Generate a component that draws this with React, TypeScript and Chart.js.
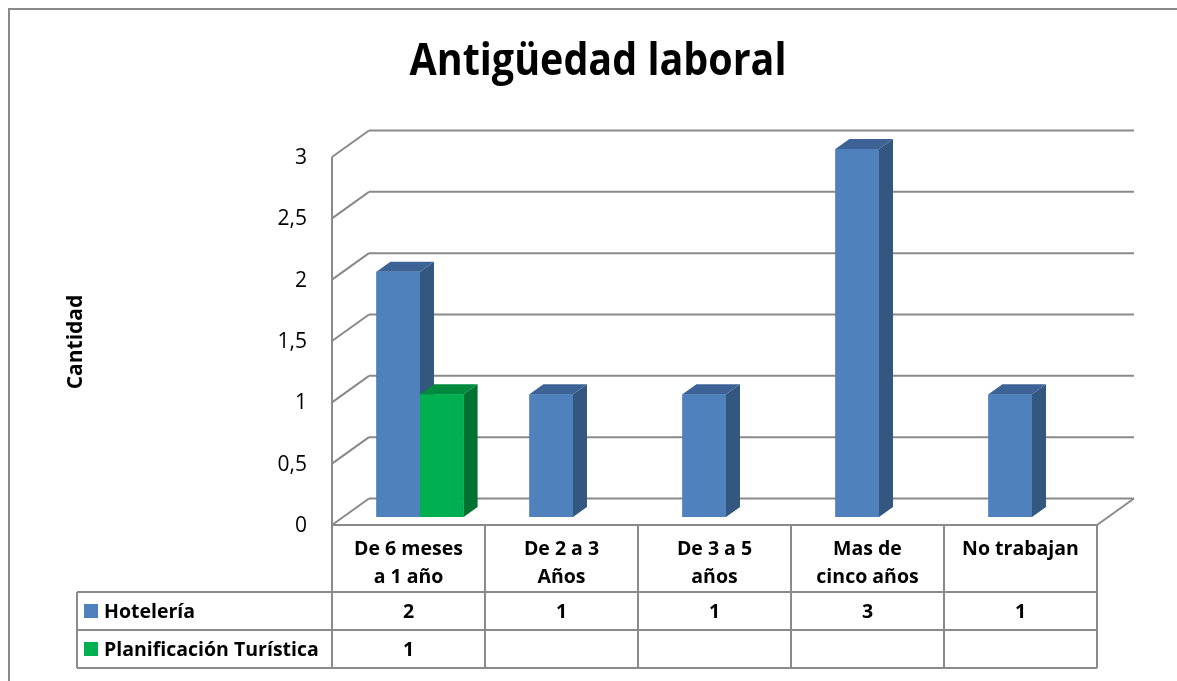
import React, { useEffect, useRef } from "react";
import { Chart, registerables } from "chart.js";

Chart.register(...registerables);

// ---------- data ----------
const TITLE = "Antigüedad laboral";
const Y_TITLE = "Cantidad";
const categories: string[][] = [
  ["De 6 meses", "a 1 año"],
  ["De 2 a 3", "Años"],
  ["De 3 a 5", "años"],
  ["Mas de", "cinco años"],
  ["No trabajan"],
];
const seriesNames = ["Hotelería", "Planificación Turística"];
const hoteleria: (number | null)[] = [2, 1, 1, 3, 1];
const planificacion: (number | null)[] = [1, null, null, null, null];
const yTicks = [0, 0.5, 1, 1.5, 2, 2.5, 3];
const yTickLabels = ["0", "0,5", "1", "1,5", "2", "2,5", "3"];

// ---------- style ----------
const FONT = "'Open Sans', 'Noto Sans', sans-serif";
const LINE = "#8a8a8a";
const COLORS = [
  { front: "#4F81BD", top: "#3D6396", side: "#34577F" },
  { front: "#00B050", top: "#008A3E", side: "#007232" },
];
// depth offsets relative to the bar front plane
const FRONT = { dx: -11.5, dy: 8 };
const BACK = { dx: 25.5, dy: -18.5 };
const BAR_DEPTH = { dx: 14, dy: -10 };
const TABLE = { left: 77, headerH: 67, rowH: 38 };
const TITLE_BOX = { cx: 598, baseline: 75, width: 377, size: 45 };

function line(ctx: CanvasRenderingContext2D, x1: number, y1: number, x2: number, y2: number) {
  ctx.beginPath();
  ctx.moveTo(x1, y1);
  ctx.lineTo(x2, y2);
  ctx.stroke();
}

function poly(ctx: CanvasRenderingContext2D, pts: number[][], color: string) {
  ctx.beginPath();
  ctx.moveTo(pts[0][0], pts[0][1]);
  for (let i = 1; i < pts.length; i++) ctx.lineTo(pts[i][0], pts[i][1]);
  ctx.closePath();
  ctx.fillStyle = color;
  ctx.fill();
}

const excel3d = {
  id: "excel3d",
  beforeDraw(chart: any) {
    const ctx: CanvasRenderingContext2D = chart.ctx;
    const W = chart.width, H = chart.height;
    ctx.save();
    ctx.fillStyle = "#ffffff";
    ctx.fillRect(0, 0, W, H);
    // outer chart border
    ctx.strokeStyle = LINE;
    ctx.lineWidth = 2;
    ctx.beginPath();
    ctx.moveTo(9, H + 5);
    ctx.lineTo(9, 9);
    ctx.lineTo(W + 5, 9);
    ctx.stroke();

    const xs = chart.scales.x, ys = chart.scales.y;
    const L = xs.left, R = xs.right;
    ctx.strokeStyle = LINE;
    ctx.lineWidth = 2;
    // back wall grid + left wall diagonals
    for (const v of yTicks) {
      const yv = ys.getPixelForValue(v);
      line(ctx, L + BACK.dx, yv + BACK.dy, R + BACK.dx, yv + BACK.dy);
      line(ctx, L + FRONT.dx, yv + FRONT.dy, L + BACK.dx, yv + BACK.dy);
    }
    const y0 = ys.getPixelForValue(0);
    const yTop = ys.getPixelForValue(yTicks[yTicks.length - 1]);
    // left wall front edge
    line(ctx, L + FRONT.dx, yTop + FRONT.dy, L + FRONT.dx, y0 + FRONT.dy);
    // floor
    line(ctx, L + FRONT.dx, y0 + FRONT.dy, R + FRONT.dx, y0 + FRONT.dy);
    line(ctx, R + FRONT.dx, y0 + FRONT.dy, R + BACK.dx, y0 + BACK.dy);
    ctx.restore();
  },
  afterDatasetsDraw(chart: any) {
    const ctx: CanvasRenderingContext2D = chart.ctx;
    ctx.save();
    const n = categories.length;
    for (let i = 0; i < n; i++) {
      chart.data.datasets.forEach((ds: any, d: number) => {
        if (ds.data[i] == null) return;
        const el = chart.getDatasetMeta(d).data[i];
        const { x, y, base, width } = el.getProps(["x", "y", "base", "width"], true);
        const l = x - width / 2, r = x + width / 2;
        const c = COLORS[d];
        const { dx, dy } = BAR_DEPTH;
        poly(ctx, [[r, y], [r + dx, y + dy], [r + dx, base + dy], [r, base]], c.side);
        poly(ctx, [[l, y], [l + dx, y + dy], [r + dx, y + dy], [r, y]], c.top);
        ctx.fillStyle = c.front;
        ctx.fillRect(l, y, width, base - y);
      });
    }
    ctx.restore();
  },
  afterDraw(chart: any) {
    const ctx: CanvasRenderingContext2D = chart.ctx;
    const xs = chart.scales.x, ys = chart.scales.y;
    const L = xs.left, R = xs.right;
    const n = categories.length;
    const colW = (R - L) / n;
    const y0 = ys.getPixelForValue(0) + FRONT.dy;
    ctx.save();

    // title (condensed to the reference's width)
    ctx.fillStyle = "#000";
    ctx.font = `bold ${TITLE_BOX.size}px ${FONT}`;
    ctx.textAlign = "center";
    ctx.textBaseline = "alphabetic";
    const tw = ctx.measureText(TITLE).width;
    ctx.save();
    ctx.translate(TITLE_BOX.cx, TITLE_BOX.baseline);
    ctx.scale(TITLE_BOX.width / tw, 1);
    ctx.fillText(TITLE, 0, 0);
    ctx.restore();

    // y axis title
    ctx.save();
    ctx.translate(76, 342);
    ctx.rotate(-Math.PI / 2);
    ctx.font = `bold 21px ${FONT}`;
    ctx.textAlign = "center";
    ctx.textBaseline = "middle";
    ctx.fillText(Y_TITLE, 0, 0);
    ctx.restore();

    // y tick labels
    ctx.font = `21px ${FONT}`;
    ctx.textAlign = "right";
    ctx.textBaseline = "middle";
    yTicks.forEach((v, k) => {
      ctx.fillText(yTickLabels[k], L + FRONT.dx - 25, ys.getPixelForValue(v) + FRONT.dy + 1);
    });

    // data table
    const xf = (k: number) => L + FRONT.dx + k * colW;
    const rowTop = y0 + TABLE.headerH;
    const tableBottom = rowTop + TABLE.rowH * seriesNames.length;
    ctx.strokeStyle = LINE;
    ctx.lineWidth = 2;
    for (let k = 0; k <= n; k++) line(ctx, xf(k), y0, xf(k), tableBottom);
    for (let r = 0; r <= seriesNames.length; r++) {
      const yy = rowTop + r * TABLE.rowH;
      line(ctx, TABLE.left, yy, xf(n), yy);
    }
    line(ctx, TABLE.left, rowTop, TABLE.left, tableBottom);

    ctx.font = `bold 19.5px ${FONT}`;
    ctx.textAlign = "center";
    ctx.textBaseline = "middle";
    ctx.fillStyle = "#000";
    categories.forEach((lines, k) => {
      const cx = xf(k) + colW / 2;
      lines.forEach((t, j) => ctx.fillText(t, cx, y0 + 24 + j * 28));
    });

    const seriesData = [hoteleria, planificacion];
    seriesNames.forEach((name, r) => {
      const cy = rowTop + r * TABLE.rowH + TABLE.rowH / 2;
      ctx.fillStyle = COLORS[r].front;
      ctx.fillRect(84, cy - 7, 14, 14);
      ctx.fillStyle = "#000";
      ctx.textAlign = "left";
      ctx.fillText(name, 104, cy + 1);
      ctx.textAlign = "center";
      seriesData[r].forEach((v, k) => {
        if (v == null) return;
        ctx.fillText(String(v), xf(k) + colW / 2, cy + 1);
      });
    });
    ctx.restore();
  },
};

export default function App() {
  const ref = useRef<HTMLCanvasElement | null>(null);
  useEffect(() => {
    if (!ref.current) return;
    const chart = new Chart(ref.current, {
      type: "bar",
      data: {
        labels: categories.map((c) => c.join(" ")),
        datasets: [
          { label: seriesNames[0], data: hoteleria, backgroundColor: COLORS[0].front, borderWidth: 0 },
          { label: seriesNames[1], data: planificacion, backgroundColor: COLORS[1].front, borderWidth: 0 },
        ],
      },
      options: {
        responsive: false,
        animation: false,
        devicePixelRatio: 1,
        layout: { padding: { left: 343.5, right: 68.5, top: 149, bottom: 164 } },
        datasets: { bar: { categoryPercentage: 0.57, barPercentage: 1.0 } },
        plugins: { legend: { display: false }, title: { display: false }, tooltip: { enabled: false } },
        events: [],
        scales: {
          x: { display: false, offset: true },
          y: { display: false, min: 0, max: 3 },
        },
      },
      plugins: [excel3d],
    });
    return () => chart.destroy();
  }, []);
  return (
    <div style={{ position: "fixed", left: 0, top: 0, width: 1177, height: 681, background: "#fff" }}>
      <canvas ref={ref} width={1177} height={681} />
    </div>
  );
}
